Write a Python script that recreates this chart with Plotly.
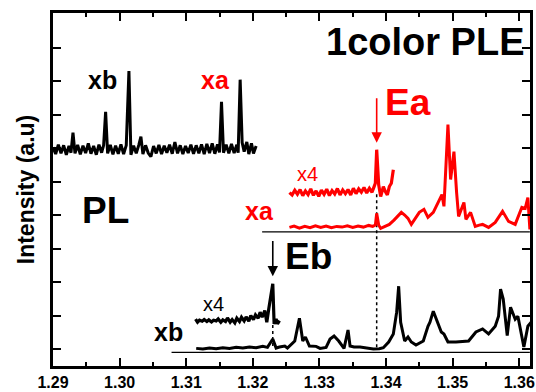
import plotly.graph_objects as go

# ---------------- data ----------------
pl_E = [1.2900, 1.2904, 1.2908, 1.2912, 1.2916, 1.2920, 1.2924, 1.2927, 1.2930, 1.2933,
        1.2937, 1.2941, 1.2945, 1.2949, 1.2953, 1.2957, 1.2961, 1.2965, 1.2969, 1.2973,
        1.2976, 1.2979, 1.2982, 1.2986, 1.2990, 1.2994, 1.2998, 1.3002, 1.3006, 1.3010,
        1.3014, 1.3017, 1.3021, 1.3025, 1.3029, 1.3032, 1.3035, 1.3039, 1.3043, 1.3047,
        1.3051, 1.3055, 1.3059, 1.3063, 1.3067, 1.3071, 1.3075, 1.3079, 1.3083, 1.3087,
        1.3091, 1.3095, 1.3099, 1.3103, 1.3107, 1.3111, 1.3115, 1.3119, 1.3123, 1.3127,
        1.3131, 1.3135, 1.3139, 1.3143, 1.3147, 1.3150, 1.3153, 1.3156, 1.3160, 1.3164,
        1.3168, 1.3172, 1.3176, 1.3178, 1.3181, 1.3184, 1.3187, 1.3191, 1.3194, 1.3198,
        1.3201, 1.3205]
pl_I = [6.02, 5.82, 6.10, 5.84, 6.08, 5.80, 6.06, 5.86, 6.46, 5.84,
        6.09, 5.81, 6.07, 5.85, 6.14, 5.83, 6.06, 5.80, 6.10, 5.86,
        6.08, 7.08, 5.84, 6.09, 5.81, 6.07, 5.83, 6.11, 5.82, 6.08,
        8.30, 5.80, 6.07, 5.84, 6.10, 6.34, 5.82, 6.08, 5.85, 5.74,
        6.06, 5.84, 6.09, 5.82, 6.07, 5.86, 6.10, 5.83, 6.18, 5.84,
        6.08, 5.82, 6.06, 5.85, 6.10, 5.83, 6.08, 5.84, 6.11, 5.82,
        6.12, 5.85, 6.14, 5.83, 6.11, 5.87, 7.38, 5.86, 6.10, 5.84,
        6.12, 5.85, 6.10, 5.86, 8.04, 6.16, 5.89, 6.18, 5.82, 6.14,
        5.84, 6.06]

xa_x4_E = [1.3255, 1.3259, 1.3263, 1.3267, 1.3271, 1.3275, 1.3279, 1.3283, 1.3287, 1.3291,
           1.3295, 1.3299, 1.3303, 1.3307, 1.3311, 1.3315, 1.3319, 1.3323, 1.3327, 1.3331,
           1.3335, 1.3339, 1.3343, 1.3347, 1.3351, 1.3355, 1.3359, 1.3363, 1.3367, 1.3371,
           1.3375, 1.3379, 1.3382, 1.3384, 1.3386, 1.3389, 1.3392, 1.3396, 1.3399, 1.3402,
           1.3405, 1.3408, 1.3411]
xa_x4_I = [4.67, 4.60, 4.74, 4.62, 4.76, 4.58, 4.72, 4.61, 4.78, 4.59,
           4.72, 4.56, 4.74, 4.62, 4.77, 4.58, 4.73, 4.63, 4.79, 4.60,
           4.75, 4.64, 4.76, 4.60, 4.80, 4.64, 4.78, 4.68, 4.82, 4.66,
           4.80, 4.68, 4.84, 4.95, 5.95, 4.90, 4.55, 4.85, 4.70, 4.60,
           4.85, 4.95, 5.35]

xa_E = [1.3255, 1.3262, 1.3270, 1.3278, 1.3286, 1.3294, 1.3302, 1.3310, 1.3318, 1.3326,
        1.3334, 1.3342, 1.3350, 1.3358, 1.3366, 1.3374, 1.3380, 1.3384, 1.3386, 1.3389,
        1.3392, 1.3399, 1.3405, 1.3412, 1.3418, 1.3423, 1.3428, 1.3433, 1.3438, 1.3444,
        1.3450, 1.3457, 1.3463, 1.3471, 1.3478, 1.3484, 1.3487, 1.3490, 1.3493, 1.3497,
        1.3502, 1.3506, 1.3509, 1.3517, 1.3520, 1.3527, 1.3534, 1.3540, 1.3545, 1.3554,
        1.3564, 1.3575, 1.3584, 1.3594, 1.3604, 1.3609, 1.3613, 1.3616]
xa_I = [3.63, 3.67, 3.61, 3.66, 3.62, 3.68, 3.63, 3.67, 3.62, 3.66,
        3.64, 3.68, 3.63, 3.67, 3.64, 3.69, 3.66, 3.70, 4.05, 3.70,
        3.60, 3.66, 3.72, 3.85, 3.96, 4.08, 4.00, 3.90, 3.72, 3.90,
        4.08, 4.17, 3.93, 4.08, 4.375, 4.61, 4.26, 5.36, 6.70, 5.06,
        5.89, 4.67, 3.96, 4.375, 3.87, 4.08, 3.66, 3.70, 3.72, 3.63,
        3.78, 4.11, 3.81, 3.72, 4.23, 4.20, 4.52, 3.57]

xb_x4_E = [1.3114, 1.3117, 1.3120, 1.3124, 1.3127, 1.3131, 1.3134, 1.3138, 1.3141, 1.3145,
           1.3148, 1.3152, 1.3155, 1.3159, 1.3162, 1.3166, 1.3169, 1.3173, 1.3176, 1.3180,
           1.3183, 1.3187, 1.3190, 1.3194, 1.3197, 1.3201, 1.3204, 1.3208, 1.3211, 1.3214,
           1.3218, 1.3221, 1.3224, 1.3227, 1.3230, 1.3232, 1.3235, 1.3237, 1.3240]
xb_x4_I = [0.89, 0.80, 0.86, 0.83, 0.88, 0.82, 0.87, 0.81, 0.86, 0.84,
           0.90, 0.80, 0.87, 0.82, 0.93, 0.80, 0.88, 0.78, 0.92, 0.82,
           0.95, 0.84, 0.96, 0.83, 1.00, 0.88, 1.02, 0.92, 1.10, 0.95,
           1.15, 0.80, 1.20, 1.60, 1.95, 0.75, 0.90, 0.75, 0.85]

xb_E = [1.3115, 1.3125, 1.3135, 1.3145, 1.3155, 1.3165, 1.3175, 1.3185, 1.3195, 1.3205,
        1.3215, 1.3222, 1.3230, 1.3235, 1.3240, 1.3248, 1.3252, 1.3258, 1.3263, 1.3270,
        1.3275, 1.3279, 1.3285, 1.3295, 1.3301, 1.3310, 1.3316, 1.3322, 1.3326, 1.3329,
        1.3337, 1.3343, 1.3346, 1.3352, 1.3361, 1.3370, 1.3381, 1.3390, 1.3396, 1.3404,
        1.3411, 1.3416, 1.3419, 1.3422, 1.3428, 1.3433, 1.3438, 1.3445, 1.3456, 1.3463,
        1.3466, 1.3471, 1.3478, 1.3483, 1.3487, 1.3493, 1.3505, 1.3524, 1.3535, 1.3545,
        1.3554, 1.3564, 1.3569, 1.3572, 1.3576, 1.3582, 1.3587, 1.3594, 1.3598, 1.3607,
        1.3613, 1.3618]
xb_I = [0.02, 0.00, 0.03, 0.01, 0.04, 0.02, 0.05, 0.03, 0.06, 0.04,
        0.08, 0.05, 0.30, 0.03, 0.06, 0.09, 0.03, 0.15, 0.24, 0.92,
        0.24, 0.36, 0.09, 0.08, 0.02, 0.05, 0.30, 0.39, 0.30, 0.24,
        0.02, 0.57, 0.09, 0.06, 0.06, 0.03, 0.00, 0.01, 0.04, 0.21,
        0.45, 1.10, 1.875, 0.80, 0.24, 0.36, 0.21, 0.12, 0.24, 0.68,
        0.80, 1.13, 0.80, 0.51, 0.45, 0.21, 0.21, 0.24, 0.51, 0.60,
        0.45, 0.68, 0.98, 1.79, 1.49, 0.40, 1.25, 0.89, 0.98, 0.06,
        0.68, 0.80]

# zero (reference) lines of the PLE spectra
xa_zero_E = [1.3214, 1.3616]
xa_zero_I = [3.5, 3.5]
xb_zero_E = [1.3078, 1.3616]
xb_zero_I = [-0.1, -0.1]

# dotted guide lines at Ea and Eb
Ea_E = 1.3386
Ea_guide_I = [4.62, 0.0]
Eb_E = 1.3230
Eb_guide_I = [0.72, 0.03]

x_ticks = [1.29, 1.30, 1.31, 1.32, 1.33, 1.34, 1.35, 1.36]
x_ticklabels = ["1.29", "1.30", "1.31", "1.32", "1.33", "1.34", "1.35", "1.36"]
y_ticks = [0, 1, 2, 3, 4, 5, 6, 7, 8, 9]

RED = "#ff0000"
BLK = "#000000"
FONT = "Liberation Sans, Arial, sans-serif"

fig = go.Figure()

def line(x, y, color, width, dash="solid"):
    fig.add_trace(go.Scatter(x=x, y=y, mode="lines",
                             line=dict(color=color, width=width, dash=dash),
                             showlegend=False, hoverinfo="skip"))

line(xa_zero_E, xa_zero_I, BLK, 1.2)
line(xb_zero_E, xb_zero_I, BLK, 1.2)
line([Ea_E, Ea_E], Ea_guide_I, BLK, 1.5, "dot")
line([Eb_E, Eb_E], Eb_guide_I, BLK, 1.5, "dot")
line(pl_E, pl_I, BLK, 3.0)
line(xa_x4_E, xa_x4_I, RED, 3.2)
line(xa_E, xa_I, RED, 3.0)
line(xb_x4_E, xb_x4_I, BLK, 3.2)
line(xb_E, xb_I, BLK, 3.0)

def text(x, y, s, color, size, bold=True):
    fig.add_annotation(x=x, y=y, xref="x", yref="y", text=s, showarrow=False,
                       font=dict(family=FONT, size=size, color=color,
                                 weight="bold" if bold else "normal"),
                       xanchor="center", yanchor="middle")

text(1.29743, 8.04, "xb", BLK, 25)
text(1.31437, 8.04, "xa", RED, 25)
text(1.3459, 9.17, "1color PLE", BLK, 38)
text(1.34334, 7.35, "Ea", RED, 37)
text(1.29788, 4.14, "PL", BLK, 37)
text(1.32106, 4.11, "xa", RED, 25)
text(1.30739, 0.51, "xb", BLK, 25)
text(1.32834, 2.77, "Eb", BLK, 37)
text(1.32819, 5.21, "x4", RED, 20, bold=False)
text(1.31407, 1.34, "x4", BLK, 20, bold=False)

# arrows
fig.add_annotation(x=Ea_E, y=6.16, ax=Ea_E, ay=7.53, xref="x", yref="y",
                   axref="x", ayref="y", text="", showarrow=True,
                   arrowhead=2, arrowsize=1.3, arrowwidth=1.6, arrowcolor=RED)
fig.add_annotation(x=Eb_E, y=2.17, ax=Eb_E, ay=3.27, xref="x", yref="y",
                   axref="x", ayref="y", text="", showarrow=True,
                   arrowhead=2, arrowsize=1.3, arrowwidth=1.6, arrowcolor=BLK)

fig.update_layout(
    width=536, height=392,
    margin=dict(l=53, r=1, t=13, b=25),
    paper_bgcolor="white", plot_bgcolor="white",
    font=dict(family=FONT, color=BLK),
    xaxis=dict(range=[1.29, 1.36162], tickvals=x_ticks, ticktext=x_ticklabels,
               ticks="inside", ticklen=8, tickwidth=2, tickcolor=BLK,
               minor=dict(ticks="inside", ticklen=4, tickwidth=2, tickcolor=BLK, dtick=0.005),
               showline=True, linewidth=2.5, linecolor=BLK, mirror="ticks",
               showgrid=False, zeroline=False, ticklabeloverflow="allow",
               tickfont=dict(family=FONT, size=16, color=BLK, weight="bold")),
    yaxis=dict(range=[-0.506, 10.03], tickvals=y_ticks, showticklabels=False,
               ticks="inside", ticklen=8, tickwidth=2, tickcolor=BLK,
               showline=True, linewidth=2.5, linecolor=BLK, mirror="ticks",
               showgrid=False, zeroline=False,
               title=dict(text="Intensity (a.u)", standoff=10,
                          font=dict(family=FONT, size=23, color=BLK, weight="bold"))),
)

fig.write_html("out.html")
